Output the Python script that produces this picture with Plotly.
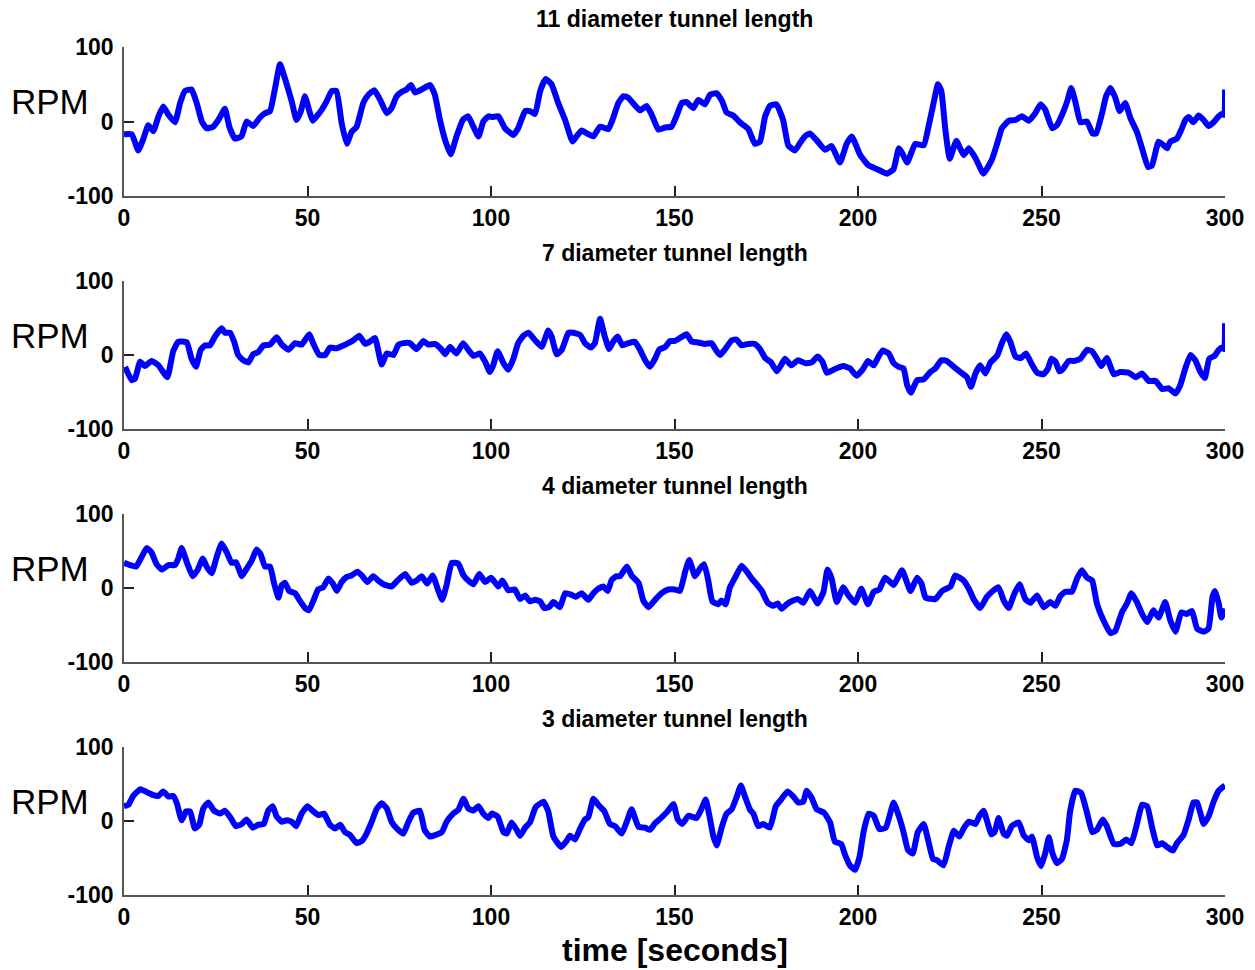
import plotly.graph_objects as go

# ---------------- data ----------------
titles = ["11 diameter tunnel length", "7 diameter tunnel length",
          "4 diameter tunnel length", "3 diameter tunnel length"]
x_ticks = [0, 50, 100, 150, 200, 250, 300]
x_tick_labels = ["0", "50", "100", "150", "200", "250", "300"]
y_ticks = [-100, 0, 100]
y_tick_labels = ["-100", "0", "100"]

t_11 = [0, 2.1, 3.9, 5.3, 6.6, 8, 9.4, 10.7, 12.1, 13.9, 15.3, 16.6, 18.4, 19.8, 21.2, 22.5, 24.3, 25.7, 27.5, 28.7,
        30.2, 32, 33.4, 35.2, 37, 38.4, 39.8, 41.1, 42.5, 43.9, 45.7, 47, 48.2, 49.3, 50.5, 51.4, 52.5, 53.9, 55.2, 56.6,
        57.9, 59.3, 60.7, 62, 63.4, 65.2, 66.6, 68.2, 69.7, 71.6, 72.9, 74.3, 75.7, 77, 78.2, 79.3, 81.1, 83.4, 84.7, 86.1,
        87.5, 89, 90.6, 92.3, 93.8, 95.2, 96.6, 97.9, 99.3, 100.2, 102, 103.8, 106.1, 107.4, 109.3, 110.6, 112, 113.4, 114.9, 116.5,
        118.3, 120.2, 122.2, 123.3, 124.7, 126.5, 127.9, 129.7, 132, 133.3, 134.7, 136.1, 137.4, 138.8, 140.6, 142.4, 143.8, 145.6,
        147.4, 149.2, 150.6, 152, 153.3, 155.1, 156.5, 158.3, 159.7, 161.5, 163, 164.2, 166, 167.8, 170.1, 171.9, 173.3, 174.7,
        176, 177.8, 179.6, 181, 182.8, 184.2, 185.5, 186.9, 188.7, 191, 192.8, 195.1, 196.9, 198.3, 200.6, 202.9, 205.2, 206.5,
        207.9, 209.7, 211.1, 212, 213.4, 215.6, 217.9, 219.3, 220.6, 221.8, 222.7, 223.8, 225, 226.8, 228.8, 230.2, 232, 234.2,
        236.5, 237.9, 239.2, 241.1, 242.9, 244.7, 246.5, 248.3, 249.7, 251, 252.9, 254.2, 255.6, 257, 258.1, 259.2, 260.6, 262.4,
        263.9, 264.9, 266.5, 267.6, 268.8, 270.1, 271.3, 272.8, 274.2, 276, 277.4, 279, 280.1, 281.9, 283.3, 284.2, 285.1, 286.9,
        288.1, 289.2, 290.1, 291.4, 292.8, 294.2, 295.5, 296.9, 298.3, 299.2, 299.8, 300]
rpm_11 = [-17, -17, -39, -23, -5, -13, 7, 20, 9, -1, 25, 41, 43, 25, 0, -9, -7, 2, 17, -7,
          -23, -20, 0, -6, 5, 11, 14, 43, 77, 57, 27, 2, 14, 34, 14, 1, 7, 16, 27, 41,
          41, -2, -30, -14, -7, 25, 36, 42, 30, 11, 18, 34, 40, 43, 49, 39, 43, 49, 36, 2,
          -25, -44, -20, 2, 7, -7, -20, 0, 7, 6, 7, -9, -18, -9, 14, 14, 10, 41, 57, 50,
          25, 2, -27, -20, -12, -17, -20, -7, -10, 5, 25, 34, 32, 24, 15, 21, 9, -11,
          -8, -7, 8, 25, 26, 18, 29, 23, 36, 38, 27, 12, 8, -1, -10, -30, -27, 7,
          21, 23, 2, -32, -39, -29, -20, -16, -25, -38, -33, -55, -30, -20, -45, -59, -64, -67,
          -70, -64, -36, -42, -55, -30, -32, -5, 25, 50, 41, -11, -50, -26, -45, -36, -49, -70,
          -51, -30, -9, 1, 2, 7, 1, 11, 23, 16, -9, -5, 9, 27, 45, 27, -1, 0,
          -16, -16, 11, 34, 45, 32, 14, 25, 5, -14, -36, -61, -59, -27, -32, -36, -27, -23,
          -11, 2, 6, -1, 8, 2, -6, -1, 7, 10, 9, 43]

t_7 = [0.3, 2.1, 3, 4.4, 5.7, 7.5, 9.4, 11.8, 13.4, 14.8, 17.1, 18.4, 19.6, 20.9, 22.1, 23.4, 24.8, 26.6, 27.5, 28.9,
       30, 31.1, 32.5, 33.9, 35.2, 36.6, 38, 39.8, 41.6, 43, 44.8, 46.6, 48.4, 50.5, 51.6, 53.2, 54.8, 56.1, 57.9, 59.8,
       61.1, 62.5, 64.1, 65.7, 67, 68.4, 70.2, 71.6, 73.4, 74.8, 76.1, 77.9, 79.7, 81.6, 82.9, 84.7, 86.6, 87.5, 88.8, 90.6,
       92.4, 93.8, 95.2, 97, 98.4, 99.7, 100.6, 101.8, 103.4, 104.7, 106.1, 107.4, 108.8, 110.2, 112, 113.8, 115.6, 116.5, 117.9, 119.3,
       121.1, 122.4, 124.3, 125.6, 127.2, 128.3, 129.7, 131, 132.2, 133.3, 134.5, 135.8, 137.4, 139.2, 140.6, 142, 143.3, 144.7,
       145.8, 147.5, 148.8, 150.1, 151.5, 153.3, 154.7, 156.5, 158.3, 160.1, 161.5, 162.4, 163.8, 165.6, 166.9, 168.3, 170.1, 171.9,
       173.3, 174.7, 176.3, 177.9, 179, 180.1, 181.8, 183.7, 185.6, 187.4, 189, 190.3, 191.5, 193.7, 196, 197.8, 199.6, 201.5,
       202.7, 204.3, 205.6, 206.7, 208.4, 209.7, 211.1, 212.4, 213.4, 214.4, 216.1, 217.9, 219.7, 221.1, 222.7, 224.2, 226.1, 227.9,
       229.7, 230.8, 232, 233.3, 234.7, 236.1, 237.9, 239.2, 240.4, 241.5, 242.9, 244.4, 245.8, 247.4, 248.8, 250.6, 251.8, 252.7,
       253.8, 254.9, 256, 257.4, 258.8, 260.6, 262.4, 263.8, 265.1, 266.3, 267.8, 269.7, 271.5, 273.8, 275.6, 277.4, 279.2, 281.1,
       282.9, 284.7, 286.5, 287.8, 289.2, 290.6, 291.9, 293.3, 294.5, 295.7, 297.2, 298.3, 299.2, 299.8, 300]
rpm_7 = [-16, -34, -32, -9, -15, -8, -14, -30, 5, 18, 17, -5, -16, 7, 13, 13, 25, 36, 30, 30,
         18, 0, -7, -10, 1, 4, 13, 14, 24, 14, 7, 16, 14, 28, 15, 0, 0, 10, 9, 13,
         16, 20, 26, 15, 18, 23, -13, 2, 0, 14, 16, 16, 8, 19, 14, 15, 7, 1, 11, 2,
         16, 7, -1, 2, -9, -23, -14, 5, -11, -20, -5, 16, 26, 30, 20, 11, 33, 25, 1, 7,
         30, 30, 27, 16, 10, 16, 49, 25, 8, 18, 25, 13, 16, 18, 7, -7, -16, -5,
         7, 11, 19, 19, 23, 28, 18, 17, 15, 16, 5, 0, 8, 20, 21, 13, 15, 15,
         8, -4, -10, -22, -14, -5, -14, -7, -11, -10, -2, -9, -24, -19, -15, -18, -28, -18,
         -8, -14, -2, 6, 2, -11, -16, -18, -41, -51, -34, -33, -23, -18, -7, -8, -16, -23,
         -30, -43, -25, -14, -25, -10, -1, 16, 28, 18, -2, -4, 2, -13, -24, -26, -18, -5,
         -9, -22, -18, -8, -8, -5, 7, 5, -5, -15, -4, -26, -23, -24, -30, -25, -35, -35,
         -46, -45, -52, -41, -18, 0, -7, -23, -31, -5, -1, 7, 10, 8, 43]

t_4 = [0, 1.6, 3.3, 4.8, 6.2, 7.5, 8.9, 10.3, 12.1, 13.9, 14.8, 15.7, 17.1, 18.7, 20, 21.5, 22.5, 23.9, 25.2, 26.6,
       28, 29.3, 30.5, 32.1, 33.4, 34.8, 36.1, 37.2, 38.4, 39.8, 40.9, 42.1, 43, 43.9, 45, 46.6, 47.9, 49.3, 50.4, 51.7,
       52.9, 54.3, 55.7, 56.9, 58, 59.3, 60.7, 62, 63.6, 64.8, 66.3, 67.9, 69.3, 70.7, 72.9, 74.5, 76.6, 78.4, 79.7, 81.1,
       82.6, 84.1, 85.6, 86.7, 87.9, 89.3, 91.1, 92.5, 93.8, 95.2, 96.8, 98.4, 100, 102, 103.1, 104.7, 106.5, 107.9, 109.3, 110.6,
       112, 113.4, 114.5, 115.8, 117, 118.8, 120.2, 121.8, 123.1, 124.7, 126.5, 127.9, 129.2, 130.6, 131.8, 132.9, 134.2, 135.2,
       137, 138.3, 140.2, 141.5, 142.9, 144.7, 146.5, 148.3, 150.1, 151.5, 152.9, 154, 155.6, 156.9, 158.1, 159.2, 160.3, 161.9,
       162.8, 163.9, 165.1, 166.5, 168.3, 169.7, 171, 172.4, 173.8, 175.4, 176.9, 178.1, 179.2, 180.6, 181.9, 183.7, 185.1, 186.9,
       189, 190.6, 191.7, 192.8, 194.2, 196, 197.4, 199.2, 200.9, 202.7, 204.3, 205.8, 207.4, 209.7, 212, 214.3, 216.1, 217.3,
       218.4, 221.1, 222.9, 225.2, 226.5, 228.8, 230.2, 231.5, 233.3, 235.1, 236.5, 238.3, 239.7, 241.1, 242.4, 244, 245.6, 247,
       248.8, 250.6, 252.4, 253.8, 255.1, 256.5, 258.3, 259.7, 261, 262.4, 263.8, 265.1, 266.9, 268.8, 270.1, 271.9, 273.3, 274.5,
       276, 277.4, 278.8, 280.5, 281.9, 283.7, 285.1, 286.5, 288.1, 289.6, 291, 292.4, 294.2, 295.5, 296.6, 297.3, 298.3, 299, 300]
rpm_4 = [34, 31, 29, 42, 54, 48, 32, 25, 31, 31, 40, 54, 35, 16, 24, 40, 29, 20, 41, 60,
         48, 34, 35, 16, 26, 37, 52, 46, 29, 29, 6, -13, 4, 7, -4, -7, -17, -27, -30, -16,
         -2, 1, 13, 6, -4, 8, 15, 17, 22, 17, 8, 16, 10, 5, 2, 10, 19, 7, 10, 16,
         6, 17, -3, -16, 4, 34, 33, 17, 10, 5, 19, 8, 14, 2, 10, -3, -2, -15, -10, -18,
         -16, -18, -27, -26, -19, -26, -7, -9, -12, -7, -16, -7, -1, 2, -4, 11, 16, 16,
         29, 17, 7, -17, -26, -16, -7, -2, -2, -4, 22, 38, 16, 26, 32, 10, -18, -22,
         -17, -22, 1, 14, 30, 22, 13, 5, -4, -20, -24, -21, -28, -22, -18, -15, -20, -4,
         -21, -5, 25, 13, -19, 1, -10, -20, -1, -22, -5, -2, 14, 4, 24, -4, 14, 6,
         -13, -15, -4, 2, 17, 10, -1, -15, -27, -12, -5, 1, -17, -27, -10, 5, -15, -20,
         -10, -26, -19, -24, -11, -5, -5, 13, 24, 14, 10, -21, -44, -61, -58, -33, -21, -7,
         -19, -35, -46, -30, -40, -19, -44, -59, -33, -35, -31, -55, -59, -55, -12, -4, -21, -40, -28]

t_3 = [0, 1.2, 2.5, 4.5, 6.2, 8, 9.4, 10.7, 12.1, 13.4, 14.4, 15.7, 16.9, 18, 19.3, 20.5, 21.6, 23, 24.5, 26.2,
       27.5, 29.1, 30.5, 32.1, 33.4, 35.1, 36.6, 38.1, 39.3, 40.5, 41.6, 43, 44.3, 45.7, 46.9, 48.4, 50, 51.6, 53, 54.5,
       56.1, 57.5, 58.9, 60.2, 61.6, 63.4, 64.8, 66.1, 67.5, 68.8, 70.2, 71.6, 72.9, 74.3, 76.1, 77.5, 78.8, 80.6, 81.9, 83.3,
       84.8, 86.6, 87.9, 89.7, 91.1, 92.5, 93.8, 95.2, 96.6, 97.9, 99.3, 100.2, 101.8, 103.4, 104.3, 105.6, 107, 107.9, 109.3, 110.6,
       112.2, 114.3, 115.6, 117, 119.1, 120.6, 121.5, 122.9, 124.3, 125.6, 126.5, 127.9, 129.2, 130.9, 132.4, 133.8, 135.6, 137,
       138.3, 140.2, 142, 143.3, 144.7, 146.5, 148.1, 149.7, 150.9, 152.1, 153.8, 156, 157.4, 158.5, 159.4, 160.6, 161.5, 162.9,
       164.2, 165.6, 166.9, 168.1, 169.2, 170.6, 171.5, 172.8, 174.2, 176, 177.6, 179.2, 180.8, 182.4, 183.7, 185.1, 186, 187.4,
       188.7, 190.8, 192.4, 193.7, 195.4, 196.5, 197.8, 199.2, 200.4, 201.5, 202.9, 204.3, 205.8, 207.6, 209.7, 211.1, 212.4, 213.6,
       214.9, 216.3, 217.9, 219.3, 220.4, 221.5, 223.3, 224.7, 226.1, 227.6, 228.8, 230.2, 232, 233.1, 234.2, 235.4, 236.3, 237.2,
       238.3, 239.7, 240.6, 241.9, 243.8, 245.1, 246.5, 247.4, 248.8, 249.9, 251.1, 252, 253, 254.2, 255.6, 256.9, 257.8, 259.2,
       260.8, 262.4, 263.8, 265.1, 266.7, 267.8, 269.7, 271.5, 273.1, 274.5, 276, 277.4, 278.8, 280.1, 281.5, 282.9, 284.2, 285.8,
       286.9, 288.7, 290.1, 291.4, 292.4, 294.2, 295.6, 296.9, 298.3, 300]
rpm_3 = [20, 22, 34, 43, 39, 35, 34, 40, 33, 34, 24, 1, 13, 13, -10, -5, 17, 25, 14, 10,
         14, 4, -7, -4, 2, -9, -5, -4, 14, 20, 6, -1, 1, -1, -7, 10, 20, 13, 8, 10,
         -5, -10, -5, -15, -19, -30, -27, -17, -1, 16, 24, 17, -1, -10, -17, -1, 11, 14, -12, -21,
         -19, -15, -1, 10, 15, 30, 17, 14, 20, 10, 4, 10, 6, -15, -17, -2, -12, -20, -9, -2,
         19, 26, 13, -21, -35, -27, -20, -25, -10, 2, 5, 30, 22, 13, -4, -7, -17, -1,
         16, -8, -9, -12, -3, 5, 13, 23, 2, -4, 7, 4, 17, 29, 10, -21, -33, -8,
         10, 16, 32, 48, 33, 15, 10, -7, -4, -9, 20, 30, 40, 33, 25, 26, 41, 31,
         16, 11, -2, -28, -31, -46, -60, -66, -49, -15, 10, 7, -11, -9, 25, 7, -15, -39,
         -44, -15, -4, -30, -51, -53, -60, -35, -13, -21, -10, -1, -4, 7, 14, -4, -18, -15,
         4, -17, -20, -7, -2, -19, -26, -21, -49, -61, -42, -22, -44, -57, -51, -26, 13, 41,
         38, 11, -15, -12, 2, -7, -31, -31, -25, -30, -4, 22, 20, -8, -33, -30, -35, -40,
         -30, -19, 2, 25, 25, -4, 7, 26, 41, 48]

series_t = [t_11, t_7, t_4, t_3]
series_rpm = [rpm_11, rpm_7, rpm_4, rpm_3]

# ---------------- layout (pixel geometry of the reference) ----------------
W, H = 1255, 970
x_left_px, x_right_px = 124, 1225
panels_px = [(47, 196), (281, 429), (514, 662), (747, 895)]  # (top, bottom) of each plot area

FONT = "Liberation Sans, Arial, Helvetica, sans-serif"
BLUE = "#0000FF"

fig = go.Figure()
annotations = []
for i in range(4):
    top, bot = panels_px[i]
    xa = "x" if i == 0 else f"x{i+1}"
    ya = "y" if i == 0 else f"y{i+1}"
    fig.add_trace(go.Scatter(x=series_t[i], y=series_rpm[i], mode="lines",
                             line=dict(color=BLUE, width=6, shape="spline", smoothing=0.4),
                             xaxis=xa, yaxis=ya, showlegend=False, hoverinfo="skip"))
    common = dict(showgrid=False, zeroline=False, showline=True, linecolor="#555555", linewidth=1.5,
                  ticks="inside", tickcolor="#222222", tickwidth=1.5, ticklen=10, automargin=False,
                  tickfont=dict(family=FONT, size=23, color="black", weight="bold"))
    xkey = "xaxis" if i == 0 else f"xaxis{i+1}"
    ykey = "yaxis" if i == 0 else f"yaxis{i+1}"
    fig.update_layout({
        xkey: dict(domain=[x_left_px / W, x_right_px / W], range=[0, 300], tickvals=x_ticks,
                   ticktext=x_tick_labels, anchor=ya, ticklabelstandoff=1, **common),
        ykey: dict(domain=[1 - bot / H, 1 - top / H], range=[-100, 100], tickvals=y_ticks,
                   ticktext=y_tick_labels, anchor=xa, ticklabelstandoff=4, **common),
    })
    xc = (x_left_px + x_right_px) / 2 / W
    annotations.append(dict(text=titles[i], x=xc, y=1 - (top - 28) / H, xref="paper", yref="paper",
                            xanchor="center", yanchor="middle", showarrow=False,
                            font=dict(family=FONT, size=23, color="black", weight="bold")))
    annotations.append(dict(text="RPM", x=50 / W, y=1 - ((top + bot) / 2 - 20) / H, xref="paper", yref="paper",
                            xanchor="center", yanchor="middle", showarrow=False,
                            font=dict(family=FONT, size=35, color="black")))

annotations.append(dict(text="time [seconds]", x=(x_left_px + x_right_px) / 2 / W, y=1 - 950 / H,
                        xref="paper", yref="paper", xanchor="center", yanchor="middle", showarrow=False,
                        font=dict(family=FONT, size=32, color="black", weight="bold")))

fig.update_layout(width=W, height=H, margin=dict(l=0, r=0, t=0, b=0), template="none",
                  paper_bgcolor="white", plot_bgcolor="white", annotations=annotations)

fig.write_html("out.html")
